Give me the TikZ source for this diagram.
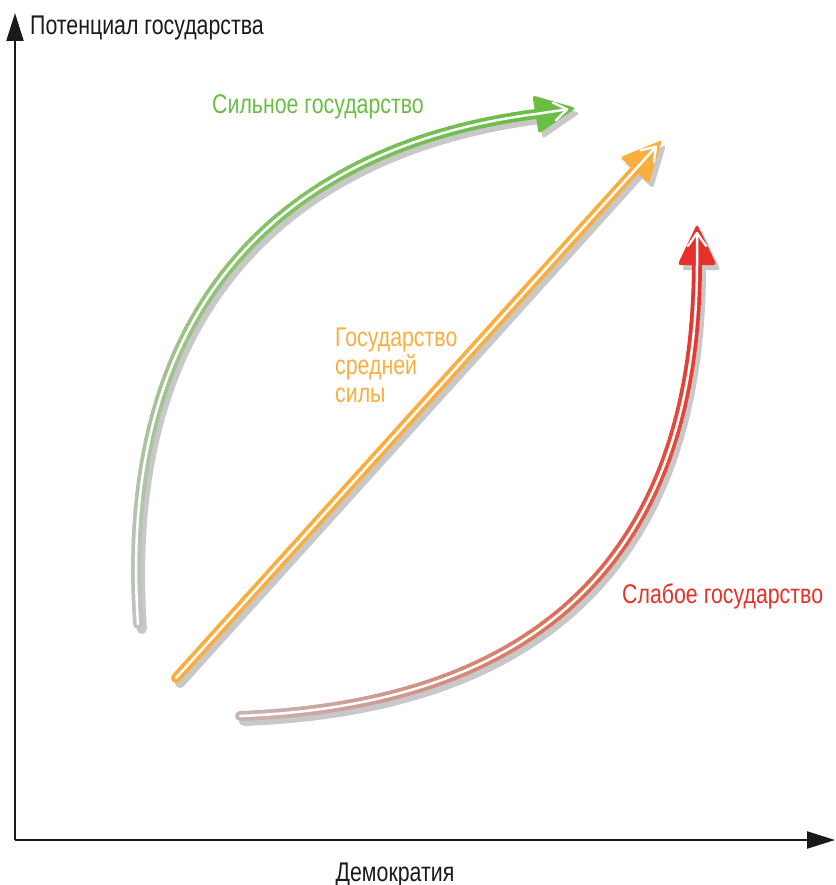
\documentclass[tikz,border=0pt]{standalone}
\usepackage{fontspec}
\setmainfont[FakeStretch=0.79]{Liberation Sans}
\usetikzlibrary{calc,arrows.meta}
\definecolor{cgreen}{HTML}{6ABD45}
\definecolor{cgreenmid}{HTML}{88C26A}
\definecolor{cgreengrey}{HTML}{C0C4C0}
\definecolor{corange}{HTML}{F9AE3F}
\definecolor{cred}{HTML}{E8302A}
\definecolor{credmid}{HTML}{DC7058}
\definecolor{credgrey}{HTML}{C8B4B4}
\definecolor{cshadow}{HTML}{C8C8C8}
\definecolor{caxis}{HTML}{1A1A1A}
\newcommand\setbez[8]{\def\pAx{#1}\def\pAy{#2}\def\pBx{#3}\def\pBy{#4}\def\pCx{#5}\def\pCy{#6}\def\pDx{#7}\def\pDy{#8}}
\newcommand\gradbez[4]{%
  \foreach \i in {0,...,59}{%
    \pgfmathsetmacro\ta{\i/60}%
    \pgfmathsetmacro\tb{(\i+1)/60}%
    \pgfmathsetmacro\xa{(1-\ta)^3*\pAx+3*(1-\ta)^2*\ta*\pBx+3*(1-\ta)*\ta^2*\pCx+\ta^3*\pDx}%
    \pgfmathsetmacro\ya{(1-\ta)^3*\pAy+3*(1-\ta)^2*\ta*\pBy+3*(1-\ta)*\ta^2*\pCy+\ta^3*\pDy}%
    \pgfmathsetmacro\xb{(1-\tb)^3*\pAx+3*(1-\tb)^2*\tb*\pBx+3*(1-\tb)*\tb^2*\pCx+\tb^3*\pDx}%
    \pgfmathsetmacro\yb{(1-\tb)^3*\pAy+3*(1-\tb)^2*\tb*\pBy+3*(1-\tb)*\tb^2*\pCy+\tb^3*\pDy}%
    \pgfmathsetmacro\tm{(\ta+\tb)/2}%
    \ifdim\tm pt<0.5pt
      \pgfmathtruncatemacro\pc{200*\tm}%
      \draw[line width=#4, line cap=round, draw=#2!\pc!#1] (\xa,\ya) -- (\xb,\yb);
    \else
      \pgfmathtruncatemacro\pc{200*(\tm-0.5)}%
      \draw[line width=#4, line cap=round, draw=#3!\pc!#2] (\xa,\ya) -- (\xb,\yb);
    \fi
  }}
\tikzset{
  headshape/.pic={\fill[pic actions, rounded corners=3pt] (0,0) -- (-41,19.5) -- (-41,-19.5) -- cycle;},
  chevron/.pic={\draw[white, line width=2.3pt, line cap=round, line join=round] (-22,9) -- (-9,0) -- (-22,-9);},
  shaftshadow/.style={draw=cshadow, line width=10pt, line cap=round},
  inner/.style={draw=white, line width=2.5pt, line cap=round},
  axis/.style={draw=caxis, line width=2.2pt, -{Triangle[length=28pt,width=17pt]}},
  lbl/.style={anchor=base west, inner sep=0pt, font=\fontsize{27}{28}\selectfont},
}
\begin{document}
\begin{tikzpicture}[x=1pt,y=-1pt]
\useasboundingbox (0,0) rectangle (835,885);
% axes
\coordinate (O) at (15,840);
\coordinate (ytop) at (15,13);
\coordinate (xend) at (835,840);
\draw[axis] (O) -- (ytop);
\draw[axis] (O) -- (xend);
\node[lbl, text=caxis] (ylab) at (30,35) {Потенциал государства};
\node[lbl, text=caxis, anchor=base] (xlab) at (395,881) {Демократия};

% ---------- green arrow
\setbez{138}{624}{114}{275}{318}{142}{536}{114}
\coordinate (g0) at (\pAx,\pAy);
\coordinate (g1) at (\pBx,\pBy);
\coordinate (g2) at (\pCx,\pCy);
\coordinate (g3) at (\pDx,\pDy);
\coordinate (gtip) at (576,108);
\draw[shaftshadow] ($(g0)+(4,5)$) .. controls ($(g1)+(4,5)$) and ($(g2)+(4,5)$) .. ($(g3)+(4,5)$);
\pic[fill=cshadow, rotate=9.2] at ($(gtip)+(4,5)$) {headshape};
\gradbez{cgreengrey}{cgreenmid}{cgreen}{10}
\pic[fill=cgreen, rotate=9.2] at (gtip) {headshape};
\draw[inner] (g0) .. controls (g1) and (g2) .. (g3) -- ($(gtip)!9pt!(g3)$);
\pic[rotate=9.2] at (gtip) {chevron};

% ---------- orange arrow
\coordinate (o0) at (176,678);
\coordinate (otip) at (662,140);
\coordinate (o3) at ($(otip)!40pt!(o0)$);
\draw[shaftshadow] ($(o0)+(4,5)$) -- ($(o3)+(4,5)$);
\pic[fill=cshadow, rotate=47.9] at ($(otip)+(4,5)$) {headshape};
\draw[draw=corange, line width=10pt, line cap=round] (o0) -- (o3);
\pic[fill=corange, rotate=47.9] at (otip) {headshape};
\draw[inner] (o0) -- ($(otip)!9pt!(o0)$);
\pic[rotate=47.9] at (otip) {chevron};

% ---------- red arrow
\setbez{240}{716}{500}{706}{697}{590}{697}{262}
\coordinate (r0) at (\pAx,\pAy);
\coordinate (r1) at (\pBx,\pBy);
\coordinate (r2) at (\pCx,\pCy);
\coordinate (r3) at (\pDx,\pDy);
\coordinate (rtip) at (697,224);
\draw[shaftshadow] ($(r0)+(4,5)$) .. controls ($(r1)+(4,5)$) and ($(r2)+(4,5)$) .. ($(r3)+(4,5)$);
\pic[fill=cshadow, rotate=90] at ($(rtip)+(4,5)$) {headshape};
\gradbez{credgrey}{credmid}{cred}{10}
\pic[fill=cred, rotate=90] at (rtip) {headshape};
\draw[inner] (r0) .. controls (r1) and (r2) .. (r3) -- ($(rtip)!9pt!(r3)$);
\pic[rotate=90] at (rtip) {chevron};

% labels
\node[lbl, text=cgreen] (lg) at (212,114) {Сильное государство};
\node[lbl, text=corange] (lo1) at (335,346) {Государство};
\node[lbl, text=corange] (lo2) at (335,374) {средней};
\node[lbl, text=corange] (lo3) at (335,402) {силы};
\node[lbl, text=cred] (lr) at (622,603) {Слабое государство};
\end{tikzpicture}
\end{document}
